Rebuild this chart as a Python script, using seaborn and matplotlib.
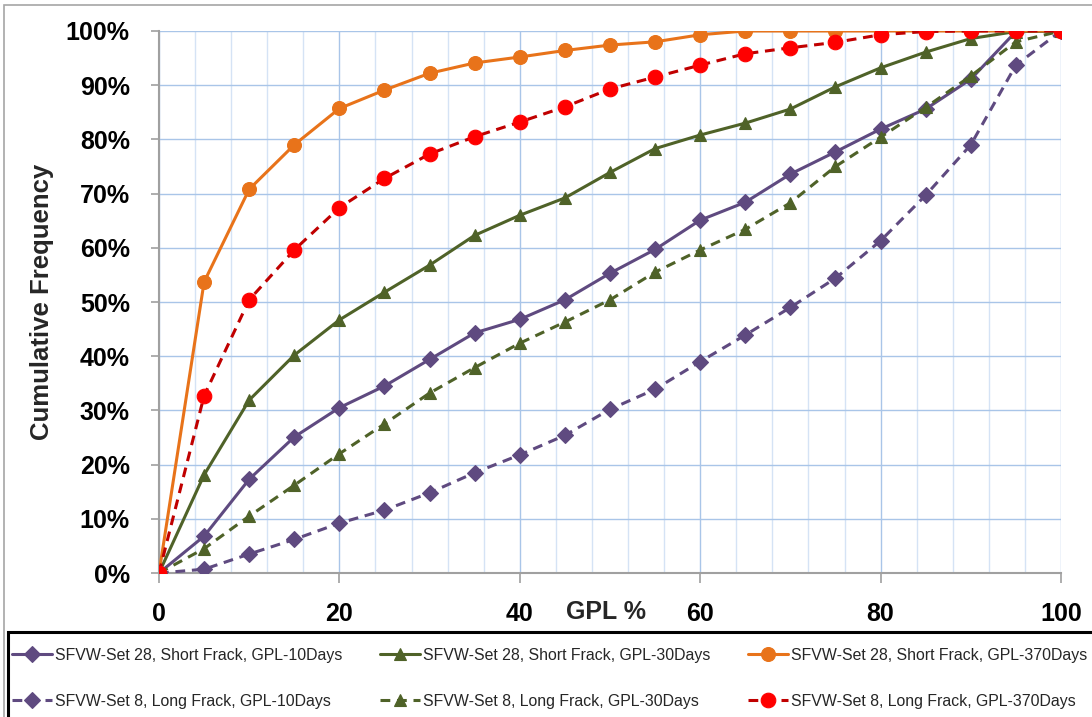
import numpy as np
import pandas as pd
import matplotlib
matplotlib.use("Agg")
import matplotlib.pyplot as plt
from matplotlib.patches import Rectangle
from matplotlib.ticker import MultipleLocator, PercentFormatter
import seaborn as sns

# GPL % (x) and cumulative frequency in % (y)
gpl = [0, 5, 10, 15, 20, 25, 30, 35, 40, 45, 50, 55, 60, 65, 70, 75, 80, 85, 90, 95, 100]

set28_10 = [0, 6.8, 17.3, 25.1, 30.5, 34.5, 39.4, 44.3, 46.8, 50.4, 55.3, 59.7, 65.1, 68.4,
            73.6, 77.7, 81.9, 85.6, 91.1, 99.9, 100]
set28_30 = [0, 18.1, 31.9, 40.2, 46.7, 51.8, 56.8, 62.3, 66.0, 69.2, 73.9, 78.3, 80.8, 83.0,
            85.6, 89.7, 93.2, 96.1, 98.6, 99.9, 100]
set28_370 = [0, 53.7, 70.8, 79.0, 85.7, 89.1, 92.2, 94.1, 95.2, 96.4, 97.4, 98.0, 99.3, 100,
             100, 100, 100, 100, 100, 100, 100]
set8_10 = [0, 0.7, 3.5, 6.2, 9.2, 11.6, 14.8, 18.5, 21.8, 25.4, 30.2, 33.9, 39.0, 43.9,
           49.0, 54.4, 61.3, 69.7, 79.0, 93.7, 100]
set8_30 = [0, 4.5, 10.5, 16.2, 22.0, 27.5, 33.2, 37.9, 42.4, 46.3, 50.4, 55.5, 59.6, 63.4,
           68.3, 75.0, 80.4, 85.9, 91.7, 98.0, 100]
set8_370 = [0, 32.7, 50.4, 59.6, 67.4, 72.8, 77.3, 80.5, 83.2, 86.0, 89.3, 91.5, 93.7, 95.8,
            96.9, 97.9, 99.3, 99.9, 100, 100, 100]

labels = ["SFVW-Set 28, Short Frack, GPL-10Days",
          "SFVW-Set 28, Short Frack, GPL-30Days",
          "SFVW-Set 28, Short Frack, GPL-370Days",
          "SFVW-Set 8, Long Frack, GPL-10Days",
          "SFVW-Set 8, Long Frack, GPL-30Days",
          "SFVW-Set 8, Long Frack, GPL-370Days"]

purple = "#5F4A80"
green = "#4F6228"
orange = "#E8731A"
red = "#FF0000"
darkred = "#C00000"

sns.set_theme(style="white")
plt.rcParams['font.family'] = ['Liberation Sans', 'DejaVu Sans']

fig = plt.figure(figsize=(10.92, 7.17), dpi=100)
ax = fig.add_axes([0.1456, 0.2008, 0.826, 0.756])

# outer chart border (gray) and legend box (black)
fig.patches.append(Rectangle((4 / 1092, -0.05), 1.2, 1.05 - 5 / 717, transform=fig.transFigure,
                             fill=False, edgecolor='#A6A6A6', linewidth=1.2, zorder=0))
fig.patches.append(Rectangle((8 / 1092, -0.05), 1.2, 0.05 + (717 - 632) / 717,
                             transform=fig.transFigure, fill=False, edgecolor='black',
                             linewidth=2.2, zorder=1))

series = [
    (set28_10, labels[0], purple, purple, 'D', '-', 8),
    (set28_30, labels[1], green, green, '^', '-', 9),
    (set28_370, labels[2], orange, orange, 'o', '-', 10),
    (set8_10, labels[3], purple, purple, 'D', '--', 8),
    (set8_30, labels[4], green, green, '^', '--', 9),
    (set8_370, labels[5], darkred, red, 'o', '--', 10.5),
]

handles = {}
for vals, lab, lc, mc, mk, ls, ms in series:
    df = pd.DataFrame({"gpl": gpl, "freq": vals})
    sns.lineplot(data=df, x="gpl", y="freq", ax=ax, color=lc, linewidth=2.2,
                 linestyle=ls, marker=mk, markersize=ms, markerfacecolor=mc,
                 markeredgecolor=mc, markeredgewidth=0.8, label=lab, zorder=3)
    line = ax.get_lines()[-1]
    if ls == '--':
        line.set_dashes([3.2, 2.2])
    handles[lab] = line

ax.get_legend().remove()

ax.set_xlim(0, 100)
ax.set_ylim(0, 100)
ax.xaxis.set_major_locator(MultipleLocator(20))
ax.xaxis.set_minor_locator(MultipleLocator(4))
ax.yaxis.set_major_locator(MultipleLocator(10))
ax.yaxis.set_major_formatter(PercentFormatter(decimals=0))

ax.grid(which='major', axis='both', color='#A9C5E8', linewidth=1.0, zorder=0)
ax.grid(which='minor', axis='x', color='#D5E3F5', linewidth=1.0, zorder=0)
ax.set_axisbelow(True)

for s in ['top', 'right']:
    ax.spines[s].set_visible(False)
for s in ['left', 'bottom']:
    ax.spines[s].set_color('#A0A0A0')
    ax.spines[s].set_linewidth(1.5)

ax.tick_params(axis='x', which='major', direction='out', length=7, width=1.2, color='#A0A0A0',
               bottom=True, pad=14)
ax.tick_params(axis='x', which='minor', length=0)
ax.tick_params(axis='y', which='major', direction='out', length=6, width=1.2, color='#A0A0A0',
               left=True, pad=15)
for t in ax.get_xticklabels() + ax.get_yticklabels():
    t.set_fontsize(18)
    t.set_fontweight('bold')
    t.set_color('black')

ax.set_xlabel("")
ax.set_ylabel("")
fig.text(42 / 1092, 1 - 302 / 717, "Cumulative Frequency", rotation=90, ha='center',
         va='center', fontsize=18.5, fontweight='bold')
ax.text((606 - 159) / 902, (573 - 612) / 542, "GPL %", transform=ax.transAxes,
        ha='center', va='center', fontsize=18, fontweight='bold')

order = [labels[0], labels[3], labels[1], labels[4], labels[2], labels[5]]
leg = fig.legend([handles[l] for l in order], order, ncol=3,
                 loc='upper left', bbox_to_anchor=(12 / 1092, 1 - 648 / 717),
                 frameon=False, prop={'size': 11.4},
                 handlelength=2.5, handletextpad=0.2, columnspacing=2.4,
                 labelspacing=1.95, borderpad=0, borderaxespad=0)

fig.savefig("out.png", dpi=100)
